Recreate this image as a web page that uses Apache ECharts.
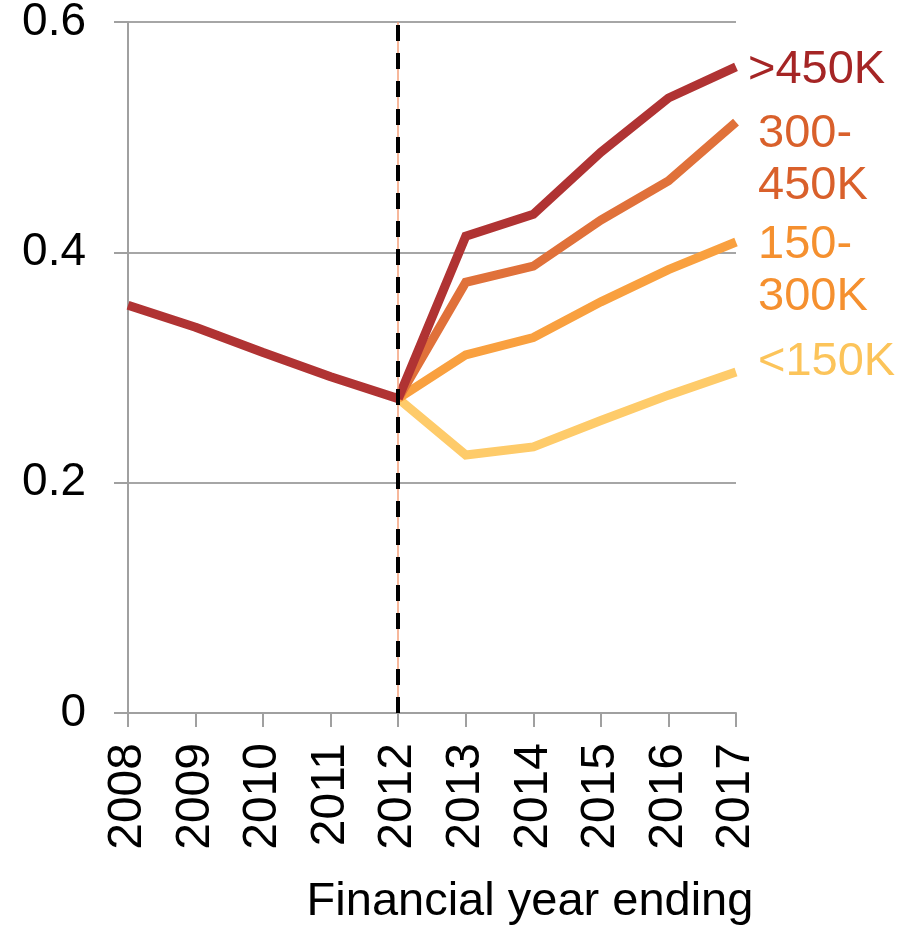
<!DOCTYPE html>
<html>
<head>
<meta charset="utf-8">
<script src="https://cdn.jsdelivr.net/npm/echarts@6/dist/echarts.min.js"></script>
<style>
  html, body { margin: 0; padding: 0; background: #fff; }
  #chart { width: 911px; height: 926px; }
</style>
</head>
<body>
<div id="chart"></div>
<script>
const years = ["2008", "2009", "2010", "2011", "2012", "2013", "2014", "2015", "2016", "2017"];
const yTicks = [0, 0.2, 0.4, 0.6];

// outturn up to 2012, then one branch per band
const history = [0.354, 0.335, 0.313, 0.292, 0.273, null, null, null, null, null];
const over450 = [null, null, null, null, 0.273, 0.414, 0.433, 0.487, 0.534, 0.561];
const band300to450 = [null, null, null, null, 0.273, 0.374, 0.388, 0.428, 0.462, 0.513];
const band150to300 = [null, null, null, null, 0.273, 0.311, 0.326, 0.357, 0.385, 0.409];
const under150 = [null, null, null, null, 0.273, 0.224, 0.231, 0.254, 0.276, 0.296];

const bandNames = ["<150K", "150-\n300K", "300-\n450K", ">450K"];
const splitYear = "2012";

const FONT = "'Liberation Sans', Arial, sans-serif";
const DARK_RED = "#B03333";

const bandLine = (name, data, color, labelColor, offset) => ({
  name,
  type: "line",
  data,
  symbol: "none",
  lineStyle: { color, width: 9, cap: "butt", join: "miter" },
  endLabel: {
    show: true,
    formatter: name,
    color: labelColor,
    fontFamily: FONT,
    fontSize: 47,
    lineHeight: 52,
    align: "left",
    offset,
  },
});

const chart = echarts.init(document.getElementById("chart"), null, { renderer: "canvas" });

chart.setOption({
  animation: false,
  grid: { left: 128, right: 175, top: 22, bottom: 213, outerBoundsMode: "none", containLabel: false },
  xAxis: {
    type: "category",
    data: years,
    boundaryGap: false,
    name: "Financial year ending",
    nameLocation: "middle",
    nameGap: 166,
    nameTextStyle: { color: "#000", fontFamily: FONT, fontSize: 47, padding: [0, 0, 0, 196] },
    axisLine: { lineStyle: { color: "#a0a0a0", width: 2 } },
    axisTick: { alignWithLabel: true, length: 14, lineStyle: { color: "#a0a0a0", width: 2 } },
    axisLabel: { rotate: 90, margin: 30, color: "#000", fontFamily: FONT, fontSize: 48 },
    splitLine: { show: false },
  },
  yAxis: {
    type: "value",
    min: 0,
    max: 0.6,
    interval: 0.2,
    axisLine: { show: true, lineStyle: { color: "#a0a0a0", width: 2 } },
    axisTick: { show: true, length: 14, lineStyle: { color: "#a0a0a0", width: 2 } },
    axisLabel: {
      margin: 42,
      color: "#000",
      fontFamily: FONT,
      fontSize: 46,
      formatter: (v) => (yTicks.includes(v) && v !== 0 ? v.toFixed(1) : "0"),
    },
    splitLine: { show: true, lineStyle: { color: "#a6a6a6", width: 2 } },
  },
  series: [
    bandLine(bandNames[0], under150, "#FECB6A", "#FCC45A", [14, -10]),
    bandLine(bandNames[1], band150to300, "#F9A03F", "#F5902F", [14, 29]),
    bandLine(bandNames[2], band300to450, "#E0713A", "#D9602B", [14, 38]),
    bandLine(bandNames[3], over450, DARK_RED, "#A52525", [4, 3]),
    {
      name: "history",
      type: "line",
      data: history,
      symbol: "none",
      lineStyle: { color: DARK_RED, width: 9, cap: "butt" },
      markLine: {
        silent: true,
        symbol: "none",
        label: { show: false },
        data: [
          { xAxis: splitYear, lineStyle: { color: "#F4A07A", width: 1.5, type: "solid" } },
          { xAxis: splitYear, lineStyle: { color: "#000", width: 4, type: [16, 12] } },
        ],
      },
    },
  ],
});
</script>
</body>
</html>
